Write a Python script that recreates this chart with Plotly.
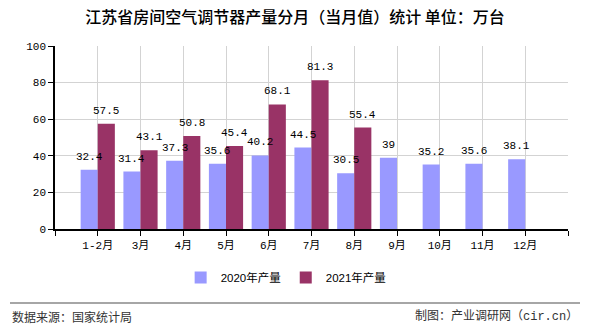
import plotly.graph_objects as go

months = ["1-2月", "3月", "4月", "5月", "6月", "7月", "8月", "9月", "10月", "11月", "12月"]
prod_2020 = [32.4, 31.4, 37.3, 35.6, 40.2, 44.5, 30.5, 39, 35.2, 35.6, 38.1]
prod_2021 = [57.5, 43.1, 50.8, 45.4, 68.1, 81.3, 55.4]
series_names = ["2020年产量", "2021年产量"]
series_colors = ["#9999FF", "#993366"]
title_text = "江苏省房间空气调节器产量分月（当月值）统计 单位：万台"
source_text = "数据来源：国家统计局"
credit_text = "制图：产业调研网（cir.cn）"

x_pos = list(range(len(months)))
mono = "Liberation Mono, Noto Sans CJK SC, monospace"
cjk = "Noto Sans CJK SC, sans-serif"

L, R, T, B = 55, 22, 46, 101
W, H = 590, 330
pw, ph = W - L - R, H - T - B
x_range = [-1, 11]
bargap = 0.2
unit_px = pw / (x_range[1] - x_range[0])
bar_w = (1 - bargap) / 2


def fmt(v):
    return f"{v:g}"


def px_x(px):
    return (px - L) / pw


def px_y(py):
    return (H - B - py) / ph


fig = go.Figure()
all_series = [prod_2020, prod_2021]
for k, vals in enumerate(all_series):
    fig.add_trace(go.Bar(
        x=x_pos[:len(vals)], y=vals, name=series_names[k],
        marker_color=series_colors[k], marker_line_width=0,
        hoverinfo="x+y",
    ))

# value labels drawn on top of all bars
for k, vals in enumerate(all_series):
    shift = (k - 0.5) * bar_w * unit_px
    for i, v in enumerate(vals):
        fig.add_annotation(
            x=x_pos[i], y=v, xref="x", yref="y", text=fmt(v),
            showarrow=False, xshift=shift, yshift=13,
            xanchor="center", yanchor="middle",
            font=dict(family=mono, size=11, color="#000000"),
        )

fig.update_layout(
    width=W, height=H,
    margin=dict(l=L, r=R, t=T, b=B, pad=0),
    paper_bgcolor="white", plot_bgcolor="white",
    barmode="group", bargap=bargap, bargroupgap=0,
    title=dict(text=title_text, x=0.5, xanchor="center", xref="container",
               y=1 - 17 / H, yanchor="middle", yref="container",
               font=dict(family=cjk, size=16, color="#000000", weight=500)),
    showlegend=True,
    legend=dict(orientation="h", x=0.485, xanchor="center", xref="container",
                y=1 - 277.5 / H, yanchor="middle", yref="container",
                font=dict(family="Liberation Sans, Noto Sans CJK SC, sans-serif", size=11.5, color="#000000"),
                itemwidth=30, tracegroupgap=0, bgcolor="rgba(0,0,0,0)"),
    xaxis=dict(range=x_range, tickmode="array", tickvals=list(range(-1, 12)),
               ticktext=[""] + months + [""],
               showgrid=True, gridcolor="#d3d3d3", gridwidth=1,
               showline=True, linecolor="#000000", linewidth=1.5,
               ticks="outside", ticklen=5, tickcolor="#000000",
               zeroline=False, fixedrange=True,
               tickfont=dict(family=mono, size=11, color="#000000")),
    yaxis=dict(range=[0, 100], dtick=20, tick0=0,
               showgrid=True, gridcolor="#d3d3d3", gridwidth=1,
               showline=True, linecolor="#000000", linewidth=1.5,
               ticks="outside", ticklen=5, tickcolor="#000000",
               zeroline=False, fixedrange=True,
               tickfont=dict(family=mono, size=11, color="#000000")),
)

# footer separator line
fig.add_shape(type="line", xref="paper", yref="paper",
              x0=px_x(10), x1=px_x(580), y0=px_y(303), y1=px_y(303),
              line=dict(color="#888888", width=1.5))

fig.add_annotation(text=source_text, xref="paper", yref="paper",
                   x=px_x(10), y=px_y(316), xanchor="left", yanchor="middle",
                   showarrow=False, font=dict(family=cjk, size=12, color="#333333"))
fig.add_annotation(text=credit_text, xref="paper", yref="paper",
                   x=px_x(580), y=px_y(316), xanchor="right", yanchor="middle",
                   showarrow=False, font=dict(family=mono, size=12, color="#333333"))

fig.write_html("out.html", config={"displayModeBar": False})
